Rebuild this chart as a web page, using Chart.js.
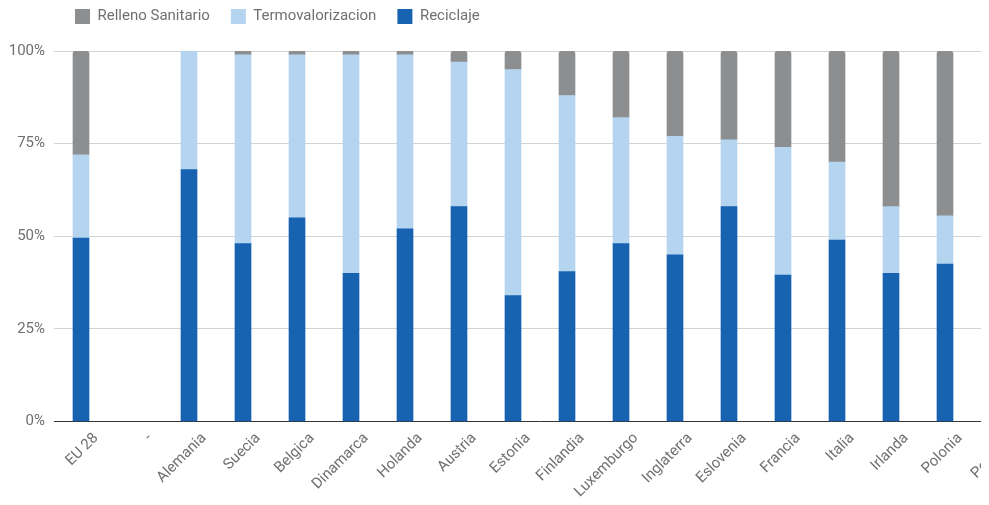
<!DOCTYPE html>
<html>
<head>
<meta charset="utf-8">
<script src="https://cdn.jsdelivr.net/npm/chart.js@4.4.1/dist/chart.umd.min.js"></script>
<style>
  html, body { margin: 0; padding: 0; background: #fff; overflow: hidden; }
  #wrap { position: relative; width: 981px; height: 505px; overflow: hidden; }
  #residuosChart { position: absolute; left: 0; top: -12px; }
</style>
</head>
<body>
<div id="wrap">
  <canvas id="residuosChart" width="1030" height="525"></canvas>
</div>
<script>
// Paises (el ultimo queda cortado en la imagen)
const paises = ["EU 28", "-", "Alemania", "Suecia", "Belgica", "Dinamarca", "Holanda", "Austria",
  "Estonia", "Finlandia", "Luxemburgo", "Inglaterra", "Eslovenia", "Francia", "Italia",
  "Irlanda", "Polonia", "Portugal"];

// Porcentajes por tipo de tratamiento
const reciclaje = [49.5, null, 68, 48, 55, 40, 52, 58, 34, 40.5, 48, 45, 58, 39.5, 49, 40, 42.5, null];
const termovalorizacion = [22.5, null, 32, 51, 44, 59, 47, 39, 61, 47.5, 34, 32, 18, 34.5, 21, 18, 13, null];
const rellenoSanitario = [28, null, 0, 1, 1, 1, 1, 3, 5, 12, 18, 23, 24, 26, 30, 42, 44.5, null];

// Marcas del eje Y
const ticksY = [0, 25, 50, 75, 100];

const textColor = "#707070";

// un poco mas de espacio debajo de la leyenda
const legendGap = {
  id: "legendGap",
  beforeInit(chart) {
    const fit = chart.legend.fit;
    chart.legend.fit = function () {
      fit.bind(chart.legend)();
      this.height += 17;
    };
  },
};

const ctx = document.getElementById("residuosChart").getContext("2d");

new Chart(ctx, {
  type: "bar",
  data: {
    labels: paises,
    datasets: [
      {
        label: "Reciclaje",
        data: reciclaje,
        backgroundColor: "#1763b1",
        barThickness: 16,
      },
      {
        label: "Termovalorizacion",
        data: termovalorizacion,
        backgroundColor: "#b4d4ef",
        barThickness: 16,
      },
      {
        label: "Relleno Sanitario",
        data: rellenoSanitario,
        backgroundColor: "#8c8e90",
        barThickness: 16,
        borderRadius: { topLeft: 3, topRight: 3, bottomLeft: 0, bottomRight: 0 },
        borderSkipped: false,
      },
    ],
  },
  options: {
    responsive: false,
    animation: false,
    layout: { padding: { left: 8, right: 4, bottom: 4 } },
    plugins: {
      legend: {
        position: "top",
        align: "start",
        fullSize: false,
        reverse: true,
        labels: {
          boxWidth: 15,
          boxHeight: 15,
          padding: 21,
          color: textColor,
          font: { family: "Roboto", size: 15 },
        },
      },
      tooltip: { enabled: false },
    },
    scales: {
      x: {
        stacked: true,
        grid: { display: false, drawTicks: false },
        border: { display: true, color: "#333", width: 1 },
        ticks: {
          color: textColor,
          font: { family: "Roboto", size: 15 },
          autoSkip: false,
          minRotation: 45,
          maxRotation: 45,
          padding: 8,
          labelOffset: 15,
        },
      },
      y: {
        stacked: true,
        min: 0,
        max: 100,
        afterFit(scale) {
          scale.width = 46;
        },
        afterBuildTicks(scale) {
          scale.ticks = ticksY.map((v) => ({ value: v }));
        },
        grid: { color: "#d3d3d3", drawTicks: false },
        border: { display: false },
        ticks: {
          color: textColor,
          font: { family: "Roboto", size: 15 },
          padding: 9,
          callback: function (value) {
            return value + "%";
          },
        },
      },
    },
  },
  plugins: [legendGap],
});
</script>
</body>
</html>
